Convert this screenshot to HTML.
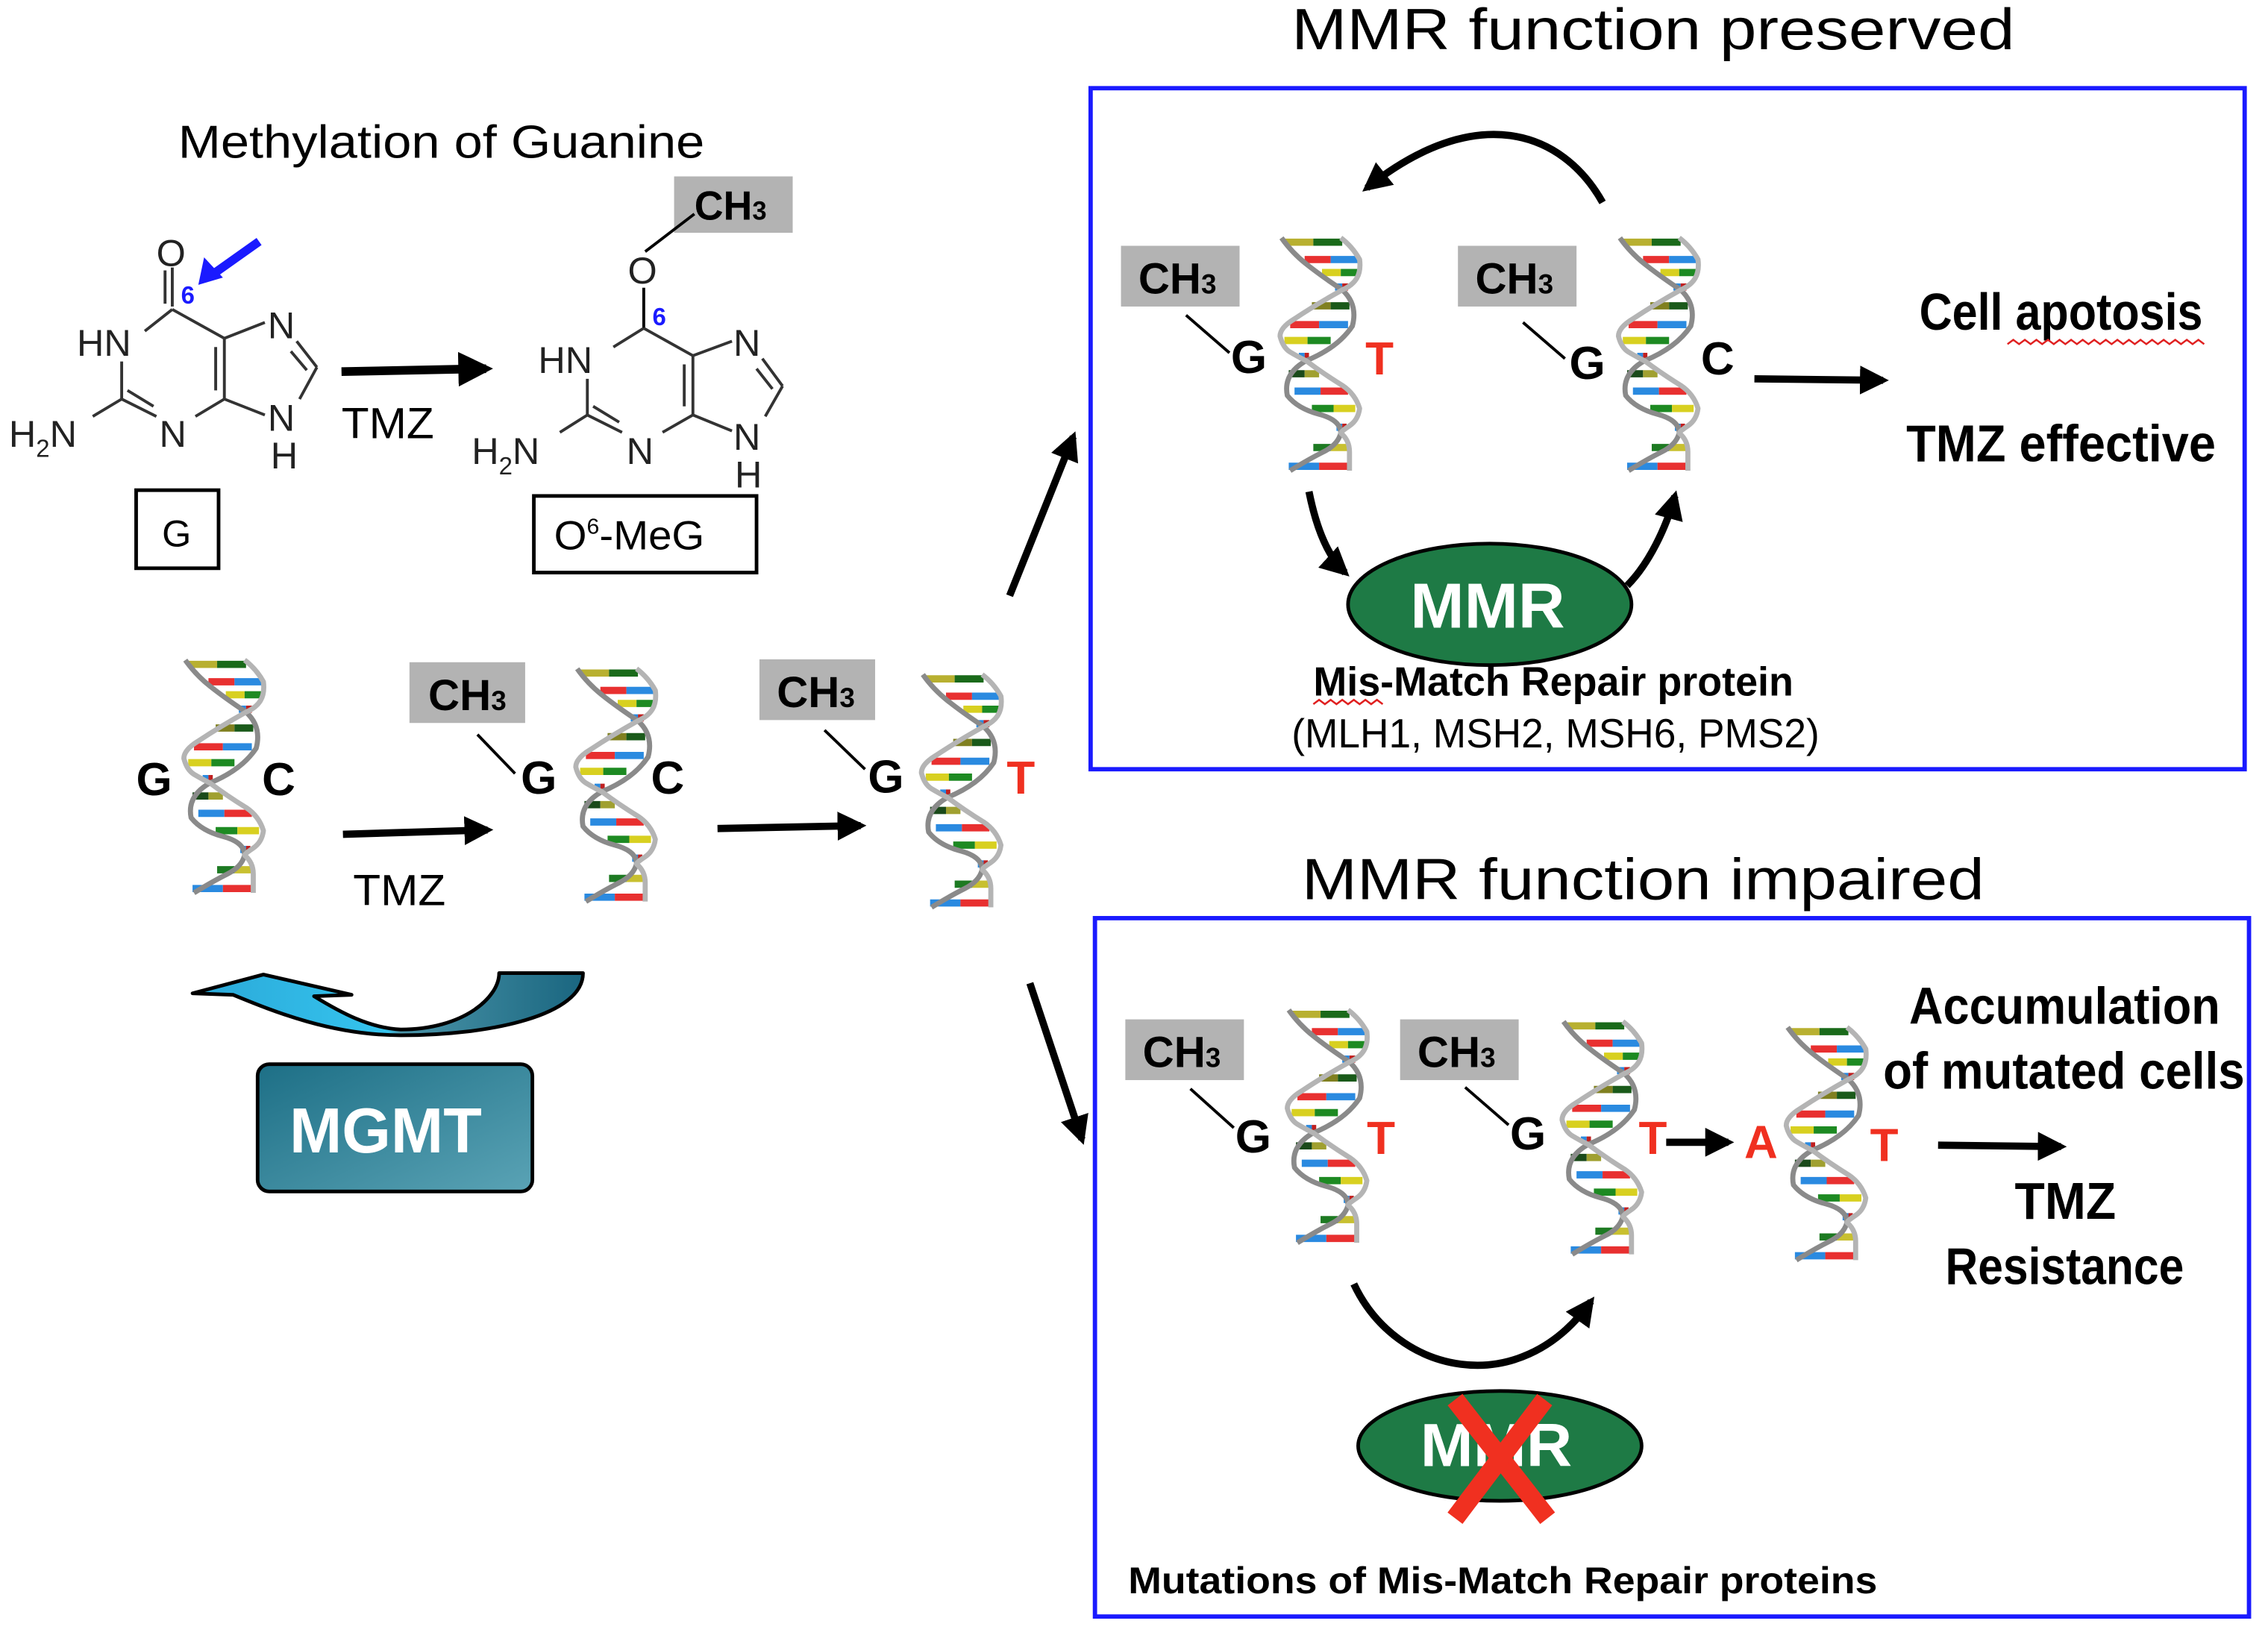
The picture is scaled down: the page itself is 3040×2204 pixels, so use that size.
<!DOCTYPE html>
<html><head><meta charset="utf-8"><style>
html,body{margin:0;padding:0;background:#fff}
svg{display:block}
text{font-family:"Liberation Sans",sans-serif}
.b{font-weight:bold}
</style></head><body>
<svg width="3040" height="2204" viewBox="0 0 1568 1137" xmlns="http://www.w3.org/2000/svg">
<defs>
<marker id="ah" viewBox="0 0 10 10" refX="8" refY="5" markerWidth="4" markerHeight="4" orient="auto"><path d="M0,0L10,5L0,10z" fill="#000"/></marker>
<symbol id="dna" viewBox="0 0 56 165" overflow="visible">
<g stroke-width="5">
<line x1="3" y1="5" x2="23" y2="5" stroke="#b8b030"/><line x1="23" y1="5" x2="43" y2="5" stroke="#1a6a1a"/>
<line x1="17" y1="17" x2="35" y2="17" stroke="#e83030"/><line x1="35" y1="17" x2="54" y2="17" stroke="#2a8ae0"/>
<line x1="29" y1="26" x2="42" y2="26" stroke="#d8d020"/><line x1="42" y1="26" x2="55" y2="26" stroke="#1d8a22"/>
<line x1="38" y1="36" x2="43" y2="36" stroke="#2a8ae0"/><line x1="43" y1="36" x2="47" y2="36" stroke="#c02020"/>
<line x1="22" y1="49" x2="35" y2="49" stroke="#808020"/><line x1="35" y1="49" x2="48" y2="49" stroke="#1a5a1a"/>
<line x1="7" y1="62" x2="27" y2="62" stroke="#e83030"/><line x1="27" y1="62" x2="47" y2="62" stroke="#2a8ae0"/>
<line x1="3" y1="73" x2="19" y2="73" stroke="#d8d020"/><line x1="19" y1="73" x2="35" y2="73" stroke="#1d8a22"/>
<line x1="13" y1="84" x2="17" y2="84" stroke="#2a8ae0"/><line x1="17" y1="84" x2="20" y2="84" stroke="#c02020"/>
<line x1="6" y1="96" x2="17" y2="96" stroke="#1a4a1a"/><line x1="17" y1="96" x2="27" y2="96" stroke="#a0a030"/>
<line x1="10" y1="108" x2="28" y2="108" stroke="#2a8ae0"/><line x1="28" y1="108" x2="47" y2="108" stroke="#e83030"/>
<line x1="22" y1="120" x2="37" y2="120" stroke="#1d8a22"/><line x1="37" y1="120" x2="52" y2="120" stroke="#d8d020"/>
<line x1="39" y1="133" x2="43" y2="133" stroke="#2a8ae0"/><line x1="43" y1="133" x2="46" y2="133" stroke="#c02020"/>
<line x1="23" y1="147" x2="35" y2="147" stroke="#1d7a22"/><line x1="35" y1="147" x2="48" y2="147" stroke="#c8c030"/>
<line x1="6" y1="160" x2="27" y2="160" stroke="#2a8ae0"/><line x1="27" y1="160" x2="48" y2="160" stroke="#e83030"/>
</g>
<path d="M1,2 Q8,12 18,20 T43,38 Q54,48 50,63 Q40,78 18,87 Q2,96 5,111 Q12,120 27,124 T42,137 Q40,145 30,150 T7,163" fill="none" stroke="#8a8a8a" stroke-width="3.5" stroke-linejoin="round"/>
<path d="M42,2 Q50,8 55,17 Q56,25 53,30 T43,38 Q25,48 10,58 Q0,64 0,70 Q2,78 7,81 T18,87 Q30,96 43,104 Q52,110 55,120 Q54,128 48,132 T42,137 Q48,142 48,150 T48,163" fill="none" stroke="#b4b4b4" stroke-width="3.5" stroke-linejoin="round"/>
</symbol>
<linearGradient id="mg" x1="0" y1="0" x2="1" y2="1"><stop offset="0" stop-color="#1d6f86"/><stop offset="1" stop-color="#5aa3b5"/></linearGradient>
<linearGradient id="cv" x1="133" y1="0" x2="403" y2="0" gradientUnits="userSpaceOnUse"><stop offset="0" stop-color="#2aa8d8"/><stop offset="0.5" stop-color="#35c4ee"/><stop offset="0.53" stop-color="#4a94a8"/><stop offset="1" stop-color="#1a6680"/></linearGradient>
</defs>

<!-- Titles -->
<text x="123" y="109" font-size="32" textLength="364" lengthAdjust="spacingAndGlyphs">Methylation of Guanine</text>
<text x="893" y="34" font-size="40" textLength="500" lengthAdjust="spacingAndGlyphs">MMR function preserved</text>
<text x="900" y="622" font-size="40" textLength="472" lengthAdjust="spacingAndGlyphs">MMR function impaired</text>

<!-- Guanine -->
<g stroke="#333" stroke-width="2" fill="none">
<line x1="119" y1="185" x2="119" y2="212"/><line x1="114" y1="187" x2="114" y2="210"/>
<line x1="119" y1="214" x2="100" y2="229"/><line x1="119" y1="214" x2="155" y2="234"/>
<line x1="84" y1="250" x2="84" y2="276"/>
<line x1="155" y1="234" x2="155" y2="276"/><line x1="149" y1="240" x2="149" y2="270"/>
<line x1="155" y1="276" x2="135" y2="288"/><line x1="84" y1="276" x2="108" y2="288"/><line x1="88" y1="270" x2="106" y2="281"/>
<line x1="84" y1="276" x2="64" y2="288"/>
<line x1="155" y1="234" x2="183" y2="223"/><line x1="155" y1="276" x2="183" y2="287"/>
<line x1="205" y1="236" x2="219" y2="254"/><line x1="201" y1="243" x2="212" y2="256"/><line x1="219" y1="254" x2="207" y2="276"/>
</g>
<g font-size="26" fill="#222">
<text x="108" y="184">O</text><text x="53" y="246">HN</text><text x="110" y="309">N</text>
<text x="6" y="309">H<tspan font-size="17" dy="7">2</tspan><tspan dy="-7">N</tspan></text>
<text x="185" y="234">N</text><text x="185" y="298">N</text><text x="187" y="324">H</text>
</g>
<line x1="179" y1="167" x2="148" y2="189" stroke="#1a1aff" stroke-width="6"/>
<path d="M137,197 L141,178 L154,192 z" fill="#1a1aff"/>
<text x="125" y="210" font-size="17" fill="#1a1aff" class="b">6</text>
<rect x="94" y="339" width="57" height="54" fill="none" stroke="#000" stroke-width="2.5"/>
<text x="122" y="378" font-size="26" text-anchor="middle">G</text>
<line x1="236" y1="257" x2="336" y2="255" stroke="#000" stroke-width="6" marker-end="url(#ah)"/>
<text x="236" y="303" font-size="30" textLength="64" lengthAdjust="spacingAndGlyphs">TMZ</text>

<!-- O6-MeG -->
<rect x="466" y="122" width="82" height="39" fill="#b3b3b3"/>
<text x="480" y="152" font-size="28" class="b" textLength="50" lengthAdjust="spacingAndGlyphs">CH<tspan font-size="18">3</tspan></text>
<g stroke="#333" stroke-width="2" fill="none">
<line x1="446" y1="174" x2="480" y2="148" stroke="#000"/>
<line x1="445" y1="199" x2="445" y2="227" stroke="#000"/>
<line x1="445" y1="227" x2="424" y2="240"/><line x1="445" y1="227" x2="479" y2="246"/>
<line x1="406" y1="262" x2="406" y2="287"/>
<line x1="479" y1="246" x2="479" y2="287"/><line x1="473" y1="252" x2="473" y2="281"/>
<line x1="479" y1="287" x2="458" y2="299"/><line x1="406" y1="287" x2="430" y2="299"/><line x1="410" y1="281" x2="428" y2="292"/>
<line x1="406" y1="287" x2="387" y2="299"/>
<line x1="479" y1="246" x2="506" y2="236"/><line x1="479" y1="287" x2="506" y2="298"/>
<line x1="527" y1="248" x2="541" y2="267"/><line x1="523" y1="255" x2="534" y2="269"/><line x1="541" y1="267" x2="529" y2="288"/>
</g>
<g font-size="26" fill="#222">
<text x="434" y="196">O</text><text x="372" y="258">HN</text><text x="433" y="321">N</text>
<text x="326" y="321">H<tspan font-size="17" dy="7">2</tspan><tspan dy="-7">N</tspan></text>
<text x="507" y="246">N</text><text x="507" y="311">N</text><text x="508" y="337">H</text>
</g>
<text x="451" y="225" font-size="17" fill="#1a1aff" class="b">6</text>
<rect x="369" y="343" width="154" height="53" fill="none" stroke="#000" stroke-width="2.5"/>
<text x="383" y="380" font-size="28" textLength="104" lengthAdjust="spacingAndGlyphs">O<tspan font-size="15" dy="-11">6</tspan><tspan dy="11">-MeG</tspan></text>

<!-- Left DNA row -->
<use href="#dna" x="127" y="452" width="56" height="170"/>
<use href="#dna" x="398" y="458" width="56" height="170"/>
<use href="#dna" x="637" y="462" width="56" height="170"/>
<g font-size="32" class="b">
<text x="94" y="550">G</text><text x="181" y="550">C</text>
<text x="360" y="549">G</text><text x="450" y="549">C</text>
<text x="600" y="548">G</text><text x="696" y="549" fill="#f03020">T</text>
</g>
<rect x="283" y="458" width="80" height="42" fill="#b3b3b3"/>
<text x="296" y="491" font-size="30" class="b" textLength="54" lengthAdjust="spacingAndGlyphs">CH<tspan font-size="19">3</tspan></text>
<line x1="330" y1="508" x2="356" y2="535" stroke="#000" stroke-width="2"/>
<rect x="525" y="456" width="80" height="42" fill="#b3b3b3"/>
<text x="537" y="489" font-size="30" class="b" textLength="54" lengthAdjust="spacingAndGlyphs">CH<tspan font-size="19">3</tspan></text>
<line x1="570" y1="505" x2="598" y2="532" stroke="#000" stroke-width="2"/>
<line x1="237" y1="577" x2="337" y2="574" stroke="#000" stroke-width="5" marker-end="url(#ah)"/>
<text x="244" y="626" font-size="30" textLength="64" lengthAdjust="spacingAndGlyphs">TMZ</text>
<line x1="496" y1="573" x2="595" y2="571" stroke="#000" stroke-width="5" marker-end="url(#ah)"/>
<line x1="698" y1="412" x2="742" y2="302" stroke="#000" stroke-width="5" marker-end="url(#ah)"/>
<line x1="712" y1="680" x2="748" y2="788" stroke="#000" stroke-width="5" marker-end="url(#ah)"/>

<!-- MGMT -->
<path d="M403,673 C403,702 340,716 277,716 C230,716 190,700 161,688 L133,687 L182,674 L243,688 L217,689 C235,700 255,711 277,712 C320,712 345,690 345,673 Z" fill="url(#cv)" stroke="#000" stroke-width="2.5" stroke-linejoin="round"/>
<rect x="178" y="736" width="190" height="88" rx="8" fill="url(#mg)" stroke="#000" stroke-width="2.5"/>
<text x="200" y="797" font-size="44" class="b" fill="#fff" textLength="133" lengthAdjust="spacingAndGlyphs">MGMT</text>

<!-- Box 1 -->
<rect x="754" y="61" width="798" height="471" fill="none" stroke="#1a1aff" stroke-width="3"/>
<path d="M1108,140 C1080,90 1020,70 945,130" fill="none" stroke="#000" stroke-width="5" marker-end="url(#ah)"/>
<use href="#dna" x="885" y="160" width="56" height="170"/>
<use href="#dna" x="1119" y="160" width="56" height="170"/>
<rect x="775" y="170" width="82" height="42" fill="#b3b3b3"/>
<text x="787" y="203" font-size="30" class="b" textLength="54" lengthAdjust="spacingAndGlyphs">CH<tspan font-size="19">3</tspan></text>
<line x1="820" y1="218" x2="850" y2="244" stroke="#000" stroke-width="2"/>
<rect x="1008" y="170" width="82" height="42" fill="#b3b3b3"/>
<text x="1020" y="203" font-size="30" class="b" textLength="54" lengthAdjust="spacingAndGlyphs">CH<tspan font-size="19">3</tspan></text>
<line x1="1053" y1="223" x2="1082" y2="248" stroke="#000" stroke-width="2"/>
<g font-size="32" class="b">
<text x="851" y="258">G</text><text x="944" y="259" fill="#f03020">T</text>
<text x="1085" y="262">G</text><text x="1176" y="259">C</text>
</g>
<line x1="1213" y1="262" x2="1302" y2="263" stroke="#000" stroke-width="5" marker-end="url(#ah)"/>
<path d="M905,340 C910,365 918,385 930,396" fill="none" stroke="#000" stroke-width="5" marker-end="url(#ah)"/>
<path d="M1125,405 C1140,390 1152,365 1158,343" fill="none" stroke="#000" stroke-width="5" marker-end="url(#ah)"/>
<ellipse cx="1030" cy="418" rx="98" ry="42" fill="#1e7a45" stroke="#000" stroke-width="2.5"/>
<text x="975" y="434" font-size="44" class="b" fill="#fff" textLength="107" lengthAdjust="spacingAndGlyphs">MMR</text>
<text x="908" y="481" font-size="28" class="b" textLength="332" lengthAdjust="spacingAndGlyphs">Mis-Match Repair protein</text>
<text x="893" y="517" font-size="28" textLength="365" lengthAdjust="spacingAndGlyphs">(MLH1, MSH2, MSH6, PMS2)</text>
<path d="M908,487 l4,-3 4,3 4,-3 4,3 4,-3 4,3 4,-3 4,3 4,-3 4,3 4,-3 4,3" fill="none" stroke="#e02020" stroke-width="1.3"/>
<text x="1327" y="228" font-size="36" class="b" textLength="196" lengthAdjust="spacingAndGlyphs">Cell apotosis</text>
<path d="M1388,238 l4,-3 4,3 4,-3 4,3 4,-3 4,3 4,-3 4,3 4,-3 4,3 4,-3 4,3 4,-3 4,3 4,-3 4,3 4,-3 4,3 4,-3 4,3 4,-3 4,3 4,-3 4,3 4,-3 4,3 4,-3 4,3 4,-3 4,3 4,-3 4,3 4,-3 4,3" fill="none" stroke="#e02020" stroke-width="1.3"/>
<text x="1318" y="319" font-size="36" class="b" textLength="214" lengthAdjust="spacingAndGlyphs">TMZ effective</text>

<!-- Box 2 -->
<rect x="757" y="635" width="798" height="483" fill="none" stroke="#1a1aff" stroke-width="3"/>
<use href="#dna" x="890" y="694" width="56" height="170"/>
<use href="#dna" x="1080" y="702" width="56" height="170"/>
<use href="#dna" x="1235" y="706" width="56" height="170"/>
<rect x="778" y="705" width="82" height="42" fill="#b3b3b3"/>
<text x="790" y="738" font-size="30" class="b" textLength="54" lengthAdjust="spacingAndGlyphs">CH<tspan font-size="19">3</tspan></text>
<line x1="823" y1="753" x2="853" y2="780" stroke="#000" stroke-width="2"/>
<rect x="968" y="705" width="82" height="42" fill="#b3b3b3"/>
<text x="980" y="738" font-size="30" class="b" textLength="54" lengthAdjust="spacingAndGlyphs">CH<tspan font-size="19">3</tspan></text>
<line x1="1013" y1="752" x2="1043" y2="778" stroke="#000" stroke-width="2"/>
<g font-size="32" class="b">
<text x="854" y="797">G</text><text x="945" y="798" fill="#f03020">T</text>
<text x="1044" y="795">G</text><text x="1133" y="798" fill="#f03020">T</text>
<text x="1206" y="801" fill="#f03020">A</text><text x="1293" y="803" fill="#f03020">T</text>
</g>
<line x1="1152" y1="790" x2="1195" y2="790" stroke="#000" stroke-width="5" marker-end="url(#ah)"/>
<line x1="1340" y1="792" x2="1425" y2="793" stroke="#000" stroke-width="5" marker-end="url(#ah)"/>
<text x="1320" y="708" font-size="36" class="b" textLength="215" lengthAdjust="spacingAndGlyphs">Accumulation</text>
<text x="1302" y="753" font-size="36" class="b" textLength="250" lengthAdjust="spacingAndGlyphs">of mutated cells</text>
<text x="1393" y="843" font-size="36" class="b" textLength="70" lengthAdjust="spacingAndGlyphs">TMZ</text>
<text x="1345" y="888" font-size="36" class="b" textLength="165" lengthAdjust="spacingAndGlyphs">Resistance</text>
<path d="M936,888 C965,950 1050,970 1100,900" fill="none" stroke="#000" stroke-width="5" marker-end="url(#ah)"/>
<ellipse cx="1037" cy="1000" rx="98" ry="38" fill="#1e7a45" stroke="#000" stroke-width="2.5"/>
<text x="982" y="1014" font-size="42" class="b" fill="#fff" textLength="105" lengthAdjust="spacingAndGlyphs">MMR</text>
<line x1="1006" y1="968" x2="1070" y2="1050" stroke="#f03020" stroke-width="13"/>
<line x1="1068" y1="968" x2="1006" y2="1050" stroke="#f03020" stroke-width="13"/>
<text x="780" y="1102" font-size="26" class="b" textLength="518" lengthAdjust="spacingAndGlyphs">Mutations of Mis-Match Repair proteins</text>
</svg>
</body></html>
